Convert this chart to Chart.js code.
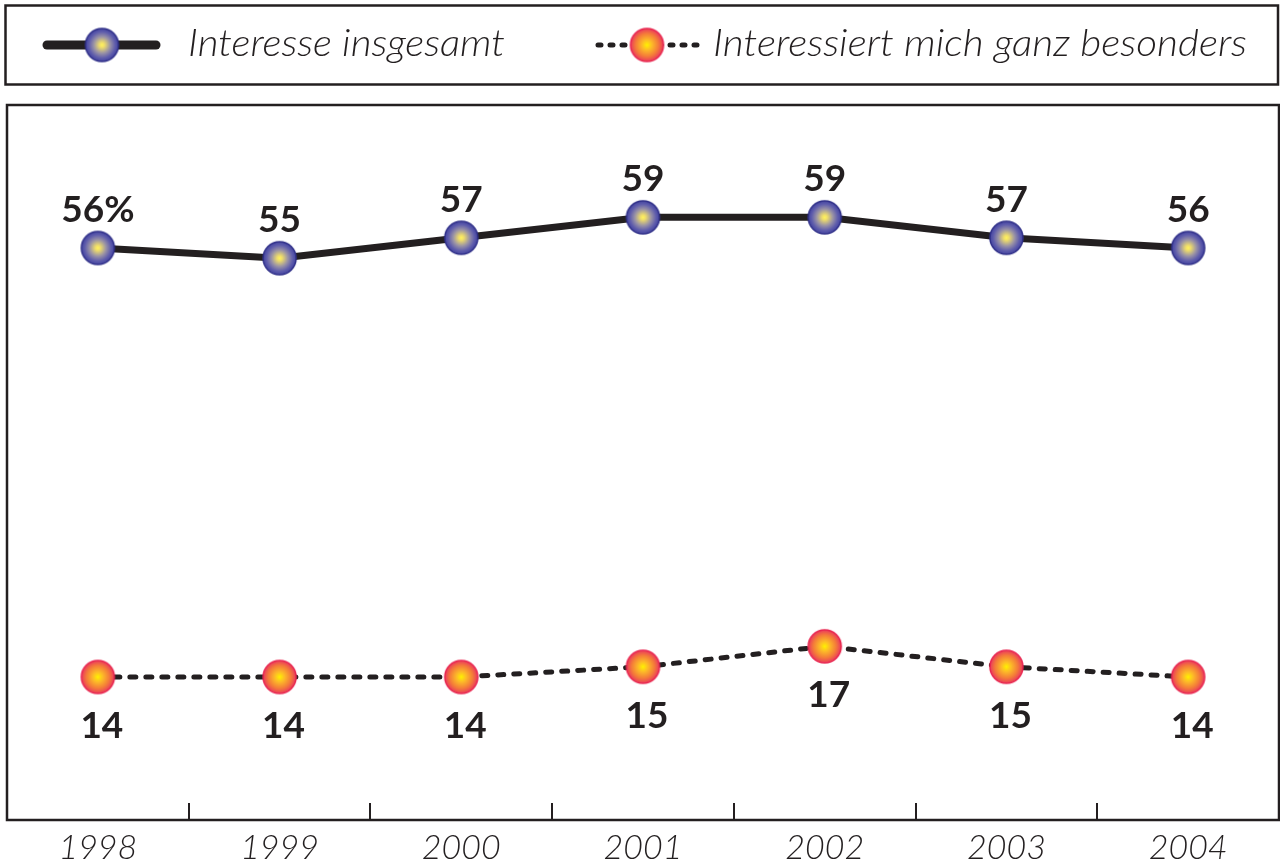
<!DOCTYPE html>
<html><head><meta charset="utf-8">
<script src="https://cdn.jsdelivr.net/npm/chart.js@4.4.1/dist/chart.umd.min.js"></script>
<style>html,body{margin:0;padding:0;background:#fff;overflow:hidden}</style>
</head><body>
<canvas id="c" width="1280" height="866"></canvas>
<script>
const years = ['1998','1999','2000','2001','2002','2003','2004'];
const interesseInsgesamt = [56,55,57,59,59,57,56];
const ganzBesonders = [14,14,14,15,17,15,14];
const seriesNames = ['Interesse insgesamt','Interessiert mich ganz besonders'];
const firstLabelSuffix = '%';

const INK = '#231f20';

function makeMarker(r, stops, stroke) {
  const s = 2 * r + 4;
  const cv = document.createElement('canvas');
  cv.width = s; cv.height = s;
  const g = cv.getContext('2d');
  const c = s / 2;
  const grad = g.createRadialGradient(c, c, 0, c, c, r);
  stops.forEach(([o, col]) => grad.addColorStop(o, col));
  g.beginPath(); g.arc(c, c, r, 0, Math.PI * 2);
  g.fillStyle = grad; g.fill();
  g.lineWidth = 1.5; g.strokeStyle = stroke; g.stroke();
  return cv;
}
const blueMarker = makeMarker(16.5, [[0, '#fff35c'], [0.15, '#f0de6a'], [0.5, '#9a93a6'], [0.8, '#5e5cac'], [1, '#4444a0']], '#2f2f88');
const redMarker = makeMarker(16.5, [[0, '#fff200'], [0.3, '#fdbb28'], [0.7, '#f47a3a'], [1, '#ea3a5e']], '#e8254f');

const framePlugin = {
  id: 'frame',
  beforeDatasetsDraw(chart) {
    const { ctx, chartArea: a, scales: { x } } = chart;
    ctx.save();
    ctx.strokeStyle = INK;
    ctx.lineWidth = 2.5;
    ctx.strokeRect(a.left, a.top, a.right - a.left, a.bottom - a.top);
    // legend box
    ctx.strokeRect(5.5, 5.5, 1272.5, 79);
    // category boundary ticks
    ctx.lineWidth = 2;
    for (let i = 0; i < years.length - 1; i++) {
      const px = Math.round((x.getPixelForValue(i) + x.getPixelForValue(i + 1)) / 2);
      ctx.beginPath();
      ctx.moveTo(px, a.bottom - 17);
      ctx.lineTo(px, a.bottom);
      ctx.stroke();
    }
    ctx.restore();
  },
  afterDatasetsDraw(chart) {
    const { ctx } = chart;
    ctx.save();
    ctx.fillStyle = INK;
    ctx.font = 'bold 37px Lato, "DejaVu Sans", sans-serif';
    ctx.textAlign = 'center';
    ctx.textBaseline = 'middle';
    chart.data.datasets.forEach((ds, di) => {
      const meta = chart.getDatasetMeta(di);
      meta.data.forEach((pt, i) => {
        let txt = String(ds.data[i]);
        if (di === 0 && i === 0) txt += firstLabelSuffix;
        if (di === 0) ctx.fillText(txt, pt.x, pt.y - 38);
        else ctx.fillText(txt, pt.x + 4, pt.y + 49);
      });
    });
    ctx.restore();
  },
  afterDraw(chart) {
    const { ctx } = chart;
    ctx.save();
    const ly = 45;
    ctx.strokeStyle = INK;
    ctx.lineCap = 'round';
    ctx.lineWidth = 9;
    ctx.beginPath(); ctx.moveTo(47, ly); ctx.lineTo(156, ly); ctx.stroke();
    ctx.drawImage(blueMarker, 102 - blueMarker.width / 2, ly - blueMarker.height / 2);
    ctx.lineWidth = 5;
    ctx.setLineDash([3, 9]);
    ctx.beginPath(); ctx.moveTo(598, ly); ctx.lineTo(700, ly); ctx.stroke();
    ctx.setLineDash([]);
    ctx.drawImage(redMarker, 647 - redMarker.width / 2, ly - redMarker.height / 2);
    ctx.fillStyle = INK;
    ctx.font = 'italic 300 37px Lato, "DejaVu Sans", sans-serif';
    ctx.textAlign = 'left';
    ctx.textBaseline = 'alphabetic';
    const drawStretched = (txt, x0, y0, targetW) => {
      const w = ctx.measureText(txt).width;
      ctx.save();
      ctx.translate(x0, y0);
      ctx.scale(targetW / w, 1);
      ctx.fillText(txt, 0, 0);
      ctx.restore();
    };
    drawStretched(seriesNames[0], 188, 56, 317);
    drawStretched(seriesNames[1], 713, 56, 534);
    ctx.restore();
  }
};

new Chart(document.getElementById('c'), {
  type: 'line',
  data: {
    labels: years,
    datasets: [
      { label: seriesNames[0], data: interesseInsgesamt, borderColor: INK, borderWidth: 7, pointStyle: blueMarker, tension: 0, clip: false },
      { label: seriesNames[1], data: ganzBesonders, borderColor: INK, borderWidth: 5, borderDash: [6, 10], borderCapStyle: 'round', pointStyle: redMarker, tension: 0, clip: false }
    ]
  },
  options: {
    responsive: false,
    animation: false,
    devicePixelRatio: 1,
    layout: { autoPadding: false, padding: { left: 7, right: 1, top: 105, bottom: 0 } },
    plugins: { legend: { display: false }, tooltip: { enabled: false } },
    scales: {
      x: {
        offset: true,
        grid: { display: false, drawTicks: false },
        border: { display: false },
        afterFit(scale) { scale.paddingLeft = 0; scale.paddingRight = 0; scale.height = 46; },
        ticks: {
          font: { family: 'Lato', size: 34, style: 'italic', weight: 300, lineHeight: 1 },
          color: INK, padding: 11, maxRotation: 0, autoSkip: false
        }
      },
      y: { display: false, min: 0, max: 70 }
    }
  },
  plugins: [framePlugin]
});
</script>
</body></html>
